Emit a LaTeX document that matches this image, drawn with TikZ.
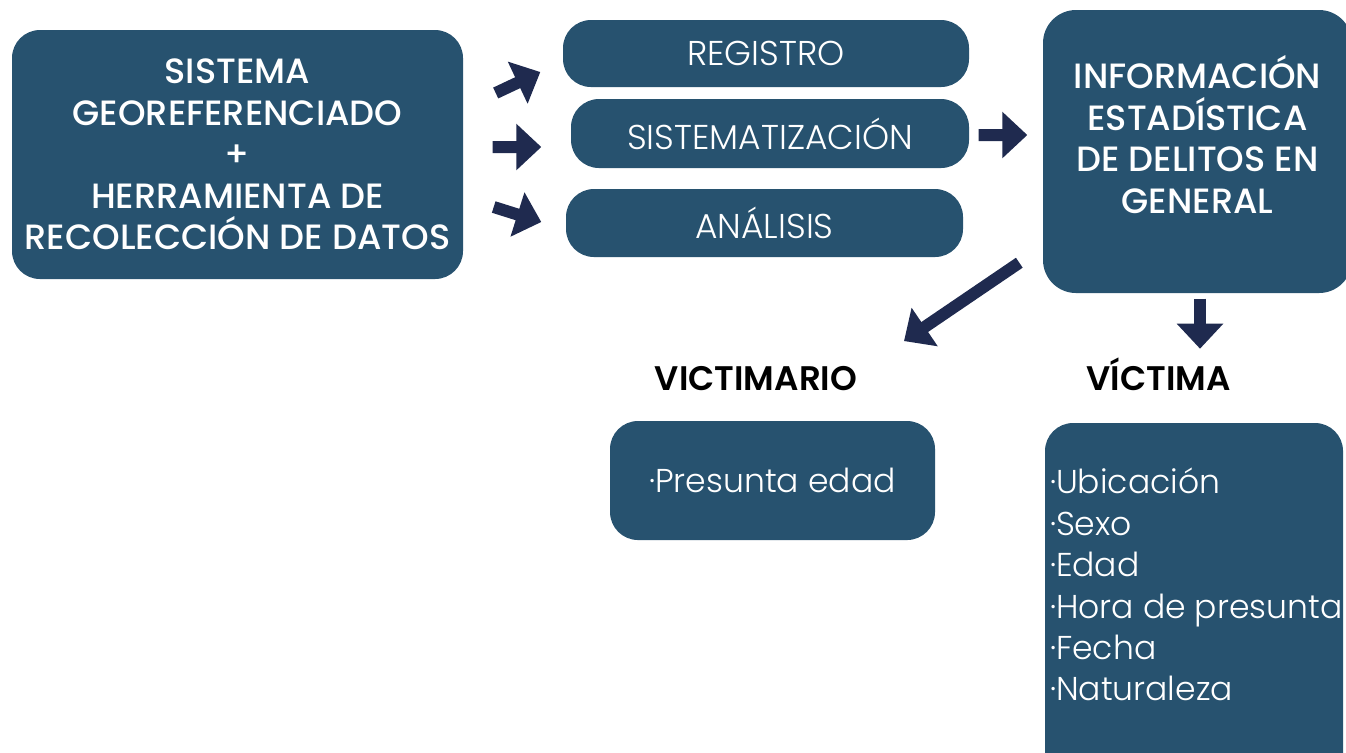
\documentclass[tikz,border=0pt]{standalone}
\usepackage{fontspec}
\setmainfont{Poppins}
\newfontfamily\lightfont{Poppins Light}
\newfontfamily\headfamily{Poppins Medium}
\newfontfamily\titlefamily{Poppins SemiBold}
\usetikzlibrary{arrows.meta, positioning, calc}
\definecolor{panelblue}{HTML}{27526F}
\definecolor{arrownavy}{HTML}{1F2A4F}

\begin{document}
\begin{tikzpicture}[
    panel/.style={rectangle, rounded corners=0.28cm, fill=panelblue, text=white, align=center, inner sep=0pt},
    headfont/.style={font=\headfamily\fontsize{10}{11.8}\selectfont},
    thinfont/.style={font=\lightfont\fontsize{9.8}{11.8}\selectfont},
    listfont/.style={font=\lightfont\fontsize{9.4}{11.8}\selectfont},
    titlefont/.style={font=\titlefamily\fontsize{9.7}{11.8}\selectfont, text=black, anchor=base},
    blockarrow/.style={-{Triangle[length=0.25cm, width=0.45cm]}, line width=0.12cm, color=arrownavy}
]
\useasboundingbox (0,0) rectangle (13.46,-7.52);
\clip (0,0) rectangle (13.46,-7.52);

% Source box
\node[panel, headfont, minimum width=4.51cm, minimum height=2.49cm] (src) at (2.375,-1.545)
    {SISTEMA\\GEOREFERENCIADO\\+\\HERRAMIENTA DE\\RECOLECCIÓN DE DATOS};

% Process steps
\node[panel, thinfont, minimum width=4.06cm, minimum height=0.67cm] (reg) at (7.66,-0.535) {REGISTRO};
\node[panel, thinfont, minimum width=3.98cm, minimum height=0.69cm] (sis) at (7.70,-1.335) {SISTEMATIZACIÓN};
\node[panel, thinfont, minimum width=3.97cm, minimum height=0.68cm] (ana) at (7.645,-2.23) {ANÁLISIS};

% Result box
\node[panel, rounded corners=0.33cm, minimum width=3.09cm, minimum height=2.83cm] (info) at (11.975,-1.515) {};
\node[headfont, text=white, align=center] (infotxt) at ($(info.center)+(0,0.17)$)
    {INFORMACIÓN\\ESTADÍSTICA\\DE DELITOS EN\\GENERAL};

% Victimario / victima
\node[titlefont] (vicm) at (7.56,-3.90) {VICTIMARIO};
\node[titlefont] (vict) at (11.585,-3.90) {VÍCTIMA};

\node[panel, listfont, minimum width=3.25cm, minimum height=1.19cm] (vmbox) at (7.725,-4.805) {·Presunta edad};
\node[panel, minimum width=2.98cm, minimum height=3.67cm] (vtbox) at (11.94,-6.065) {};
\node[listfont, text=white, align=left, anchor=north west, inner sep=0pt] (vtlist) at ($(vtbox.north west)+(0.05,-0.45)$)
    {·Ubicación\\·Sexo\\·Edad\\·Hora de presunta\\·Fecha\\·Naturaleza};

% Arrows
\draw[blockarrow] ($(src.east)+(0.32,0.615)$) -- ($(reg.west)+(-0.22,-0.185)$);
\draw[blockarrow] ($(src.east)+(0.29,0.075)$) -- ($(sis.west)+(-0.29,-0.135)$);
\draw[blockarrow] ($(src.east)+(0.30,-0.525)$) -- ($(ana.west)+(-0.24,0.01)$);
\draw[blockarrow] ($(sis.east)+(0.09,-0.015)$) -- ($(info.west)+(-0.15,0.165)$);
\draw[blockarrow] ($(info.south west)+(-0.23,0.31)$) -- ($(vicm)+(1.48,0.37)$);
\draw[blockarrow] ($(info.south)+(0.025,-0.05)$) -- ($(info.south)+(0.025,-0.55)$);

\end{tikzpicture}
\end{document}
